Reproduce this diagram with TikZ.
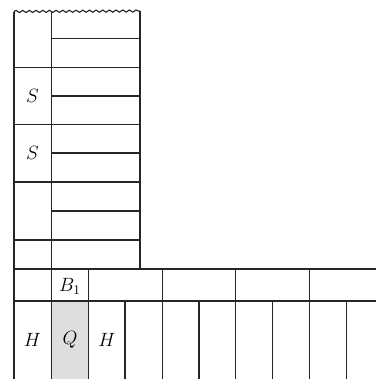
\documentclass[tikz,border=0pt]{standalone}
\usetikzlibrary{decorations.pathmorphing}
\begin{document}
\begin{tikzpicture}[x=0.75pt,y=-0.75pt,
  grid/.style={draw=black!85,line width=0.85pt},
  lbl/.style={font=\fontsize{14}{16}\selectfont,inner sep=0pt}]
\useasboundingbox (0,0) rectangle (376,379);
% shaded Q cell
\fill[black!13] (51.5,301) rectangle (88.5,379);
% wavy top
\draw[grid,decorate,decoration={snake,amplitude=0.8pt,segment length=5pt}] (14,11.5) -- (140,11);
% upper column verticals
\draw[grid] (14,11.5) -- (14,379);
\draw[grid] (51.5,11) -- (51.5,379);
\draw[grid] (140,11) -- (140,269);
% right-column horizontals
\foreach \y in {38.5,96,153,211}
  \draw[grid] (51.5,\y) -- (140,\y);
% full-width horizontals in upper column
\foreach \y in {67.5,124.5,182,240}
  \draw[grid] (14,\y) -- (140,\y);
% B1 row
\draw[grid] (14,269) -- (376,269);
\draw[grid] (14,301) -- (376,301);
\foreach \x in {88.5,162.3,235.7,309.7}
  \draw[grid] (\x,269) -- (\x,379);
\foreach \x in {125,199,272.7,346.7}
  \draw[grid] (\x,301) -- (\x,379);
% labels
\node[lbl] (s1) at (32.5,96) {$S$};
\node[lbl] (s2) at (32.5,153) {$S$};
\node[lbl] (b1) at (70,286) {$B_1$};
\node[lbl] (h1) at (32.5,340) {$H$};
\node[lbl] (q) at (70,340) {$Q$};
\node[lbl] (h2) at (107,340) {$H$};
\end{tikzpicture}
\end{document}
